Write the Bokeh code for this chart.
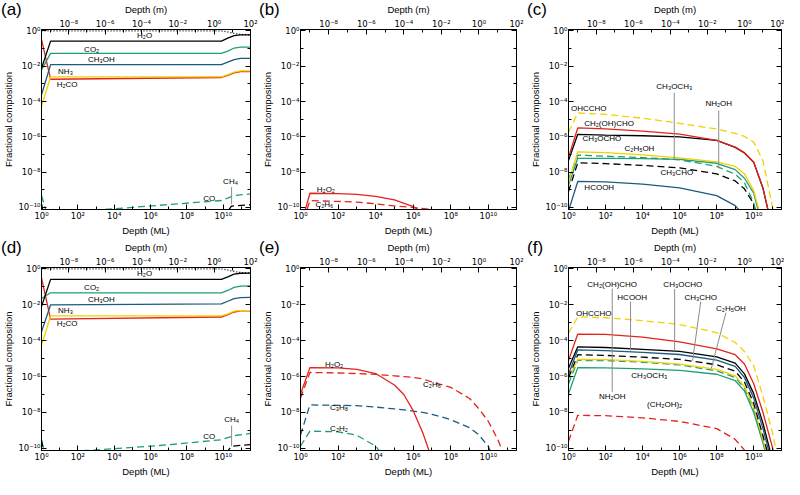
from bokeh.plotting import figure
from bokeh.models import Range1d, LogScale, LogAxis, FixedTicker, CustomJSTickFormatter, GridBox, Div
from bokeh.core.properties import value
from bokeh.embed import file_html
from bokeh.resources import INLINE

FONT = "Liberation Sans"
TICK_FONT = "DejaVu Sans"
BLACK = "#000000"
GREEN = "#1e9e76"
BLUE = "#1c5a7e"
YELLOW = "#f4d000"
RED = "#e3231c"
GRAY = "#8c8c8c"

# ---------------- data: log10(depth in ML) and log10(fractional composition) ----------------
# panel (a)
A_X = [0, 0.5, 9.9, 10.25, 10.6, 10.95, 11.5]
A_H2O_TOTAL = [0.0, 0.0, 0.0, -0.06, -0.14, -0.2, -0.22]
A_H2O = [-2.12, -0.58, -0.58, -0.41, -0.27, -0.23, -0.23]
A_CO2 = [-2.21, -1.27, -1.27, -1.15, -0.97, -0.92, -0.92]
A_CH3OH = [-3.63, -1.91, -1.91, -1.77, -1.63, -1.56, -1.56]
A_NH3 = [-4.28, -2.6, -2.6, -2.48, -2.34, -2.27, -2.27]
A_H2CO = [-0.48, -2.74, -2.64, -2.52, -2.38, -2.31, -2.31]
A_CO_X = [0, 0.5, 2, 3.2, 5, 7, 9.9, 10.25, 10.6, 11.5]
A_CO = [-9.33, -11.0, -10.35, -10.14, -10.0, -9.84, -9.61, -9.47, -9.33, -9.24]
A_CH4_X = [0, 0.25, 10.0, 10.45, 11.5]
A_CH4 = [-9.8, -11.0, -10.6, -9.93, -9.85]

# panel (d)
D_X = [0, 0.5, 9.9, 10.25, 10.6, 10.95, 11.5]
D_H2O_TOTAL = [0.0, 0.0, 0.0, -0.06, -0.14, -0.2, -0.23]
D_H2O = [-2.09, -0.58, -0.58, -0.44, -0.29, -0.24, -0.23]
D_CO2 = [-1.65, -1.33, -1.33, -1.2, -1.03, -0.96, -0.94]
D_CH3OH = [-3.5, -2.0, -1.95, -1.8, -1.65, -1.6, -1.58]
D_NH3 = [-4.27, -2.62, -2.62, -2.5, -2.35, -2.32, -2.32]
D_H2CO = [-0.5, -2.8, -2.68, -2.55, -2.4, -2.34, -2.34]
D_CO_X = [0, 0.3, 2, 5, 7, 9.9, 10.25, 10.6, 11.5]
D_CO = [-9.6, -10.6, -10.15, -9.95, -9.8, -9.52, -9.4, -9.29, -9.17]
D_CH4_X = [0, 0.25, 10.0, 10.45, 11.5]
D_CH4 = [-9.52, -11.0, -10.5, -9.88, -9.79]

# panel (b)
B_X = [0, 0.5, 2, 3, 4, 5, 6, 7, 8, 9, 10, 11, 11.5]
B_H2O2 = [-11.1, -9.2, -9.22, -9.26, -9.38, -9.58, -9.96, -10.6, -11.5, -12.5, -13.5, -14.5, -15]
B_C2H6 = [-11.3, -9.62, -9.66, -9.7, -9.8, -9.92, -10.0, -10.12, -10.3, -10.6, -11, -11.5, -12]

# panel (e)
E_X = [0, 0.5, 2, 3, 4, 5, 5.5, 6, 6.5, 7, 8, 9, 9.5, 10, 10.5, 11, 11.5]
E_H2O2 = [-6.99, -5.5, -5.52, -5.6, -5.83, -6.47, -7.0, -7.9, -9.1, -10.6, -13, -15, -16, -17, -18, -19, -20]
E_C2H6 = [-7.2, -5.77, -5.8, -5.83, -5.88, -5.96, -6.0, -6.05, -6.13, -6.3, -6.6, -7.22, -7.8, -8.5, -9.5, -10.8, -12]
E_C3H8 = [-9.26, -7.58, -7.6, -7.62, -7.7, -7.8, -7.86, -7.92, -8.0, -8.1, -8.4, -8.85, -9.25, -9.9, -11, -12.5, -14]
E_C2H2 = [-9.88, -9.04, -9.08, -9.27, -9.88, -11.2, -12, -13, -14, -15, -16, -17, -17.5, -18, -18.5, -19, -19.5]

# panel (c)
C_X = [0, 0.5, 2, 4, 6, 8, 9, 9.5, 10, 10.5, 11, 11.5]
C_OHCCHO = [-5.75, -4.65, -4.73, -4.95, -5.24, -5.56, -5.8, -5.98, -6.3, -7.35, -9.9, -13]
C_CH2OHCHO = [-7.17, -5.5, -5.55, -5.68, -5.85, -6.2, -6.58, -6.9, -7.43, -8.9, -11.2, -14]
C_CH3OCHO = [-7.35, -5.86, -5.9, -5.94, -6.0, -6.2, -6.6, -6.92, -7.45, -8.92, -11.2, -14]
C_C2H5OH = [-8.58, -6.85, -6.9, -7.02, -7.2, -7.42, -7.68, -8.1, -9.05, -11.0, -13, -15]
C_NH2OH = [-8.4, -7.04, -7.1, -7.18, -7.3, -7.68, -8.12, -8.6, -9.75, -12, -14, -16]
C_CH3OCH3 = [-8.73, -7.22, -7.22, -7.24, -7.28, -7.5, -7.86, -8.35, -9.2, -11.2, -13, -15]
C_CH3CHO = [-9.1, -7.47, -7.52, -7.62, -7.76, -8.1, -8.5, -8.95, -9.8, -12, -14, -16]
C_HCOOH = [-10.2, -8.53, -8.55, -8.68, -8.9, -9.33, -9.9, -10.5, -11.5, -12.5, -13.5, -14.5]

# panel (f)
F_X = [0, 0.5, 2, 4, 6, 8, 9, 9.5, 10, 10.5, 11, 11.5]
F_OHCCHO = [-3.59, -2.67, -2.72, -2.88, -3.1, -3.55, -4.1, -4.6, -5.4, -7.1, -9.1, -11.5]
F_CH2OHCHO = [-5.1, -3.63, -3.65, -3.8, -4.06, -4.45, -4.78, -5.3, -6.4, -8.0, -9.9, -12]
F_CH3OCHO = [-5.54, -4.34, -4.38, -4.48, -4.6, -4.9, -5.25, -5.85, -6.95, -8.6, -10.6, -13]
F_HCOOH = [-5.89, -4.51, -4.55, -4.65, -4.77, -5.08, -5.43, -6.05, -7.2, -8.9, -10.9, -13]
F_CH3CHO = [-6.07, -4.78, -4.82, -4.92, -5.04, -5.34, -5.7, -6.3, -7.5, -9.3, -11.2, -13]
F_C2H5OH = [-6.1, -5.04, -5.06, -5.15, -5.3, -5.6, -5.96, -6.55, -7.7, -9.5, -11.5, -13.5]
F_CH3OCH3 = [-6.4, -5.1, -5.11, -5.2, -5.35, -5.68, -6.05, -6.65, -7.8, -9.6, -11.6, -13.6]
F_NH2OH = [-6.96, -5.5, -5.52, -5.57, -5.65, -5.87, -6.23, -6.8, -8.0, -9.7, -11.7, -13.7]
F_CH2OH2 = [-9.61, -8.16, -8.18, -8.3, -8.5, -8.9, -9.5, -10.1, -11, -12, -13, -14]

# axis extents (log10) and tick exponents
X_LOG = (0.0, 11.5)          # depth in ML
M_LOG = (-9.5, 2.0)          # depth in m
Y_LOG = (-10.12, 0.08)
X_MAJOR = [0, 2, 4, 6, 8, 10]
X_MINOR = [1, 3, 5, 7, 9, 11]
M_MAJOR = [-8, -6, -4, -2, 0, 2]
M_MINOR = [-9, -7, -5, -3, -1, 1]
Y_MAJOR = [-10, -8, -6, -4, -2, 0]
Y_MINOR = [-9, -7, -5, -3, -1]

# annotation texts (label, log depth, log fraction)
LAB_A = [("H₂O", 5.67, -0.27), ("CO₂", 2.76, -1.03), ("CH₃OH", 3.29, -1.63), ("NH₃", 1.32, -2.3),
         ("H₂CO", 1.41, -3.03), ("CO", 9.23, -9.47), ("CH₄", 10.4, -8.53)]
LEAD_A = [(10.46, -8.85, 10.46, -9.82)]
LAB_D = [("H₂O", 5.67, -0.27), ("CO₂", 2.76, -1.06), ("CH₃OH", 3.29, -1.7), ("NH₃", 1.32, -2.32),
         ("H₂CO", 1.41, -3.06), ("CO", 9.23, -9.35), ("CH₄", 10.46, -8.37)]
LEAD_D = [(10.46, -8.73, 10.46, -9.88)]
LAB_B = [("H₂O₂", 1.35, -8.97), ("C₂H₆", 1.27, -9.82)]
LEAD_B = []
LAB_E = [("H₂O₂", 1.79, -5.33), ("C₂H₆", 7.0, -6.46), ("C₃H₈", 2.05, -7.75), ("C₂H₂", 2.05, -8.9)]
LEAD_E = []
LAB_C = [("OHCCHO", 1.09, -4.39), ("CH₂(OH)CHO", 2.19, -5.22), ("CH₃OCHO", 1.8, -6.1),
         ("C₂H₅OH", 3.83, -6.64), ("CH₃OCH₃", 5.71, -3.13), ("NH₂OH", 8.11, -4.12),
         ("CH₃CHO", 5.85, -8.02), ("HCOOH", 1.66, -8.85)]
LEAD_C = [(5.71, -3.5, 5.71, -7.26), (8.11, -4.51, 8.11, -7.79)]
LAB_F = [("CH₂(OH)CHO", 2.36, -0.85), ("HCOOH", 3.44, -1.6), ("CH₃OCHO", 6.17, -0.88),
         ("CH₃CHO", 7.14, -1.59), ("C₂H₅OH", 8.77, -2.21), ("OHCCHO", 1.36, -2.48),
         ("CH₃OCH₃", 4.36, -5.93), ("NH₂OH", 2.36, -7.13), ("(CH₂OH)₂", 5.19, -7.58)]
LEAD_F = [(2.36, -1.1, 2.36, -3.63), (2.36, -6.85, 2.36, -3.63), (3.35, -1.82, 3.35, -4.55),
          (5.73, -1.12, 5.73, -4.57), (7.14, -1.82, 6.7, -5.11), (8.5, -2.44, 7.71, -5.54)]

PANEL_LETTERS = ["(a)", "(b)", "(c)", "(d)", "(e)", "(f)"]

SOLID = "solid"
DASH = "7 4"
DOT = "1 2"

SUP_JS = """
const sup = {'-':'\u207b','0':'\u2070','1':'\u00b9','2':'\u00b2','3':'\u00b3','4':'\u2074',
             '5':'\u2075','6':'\u2076','7':'\u2077','8':'\u2078','9':'\u2079'};
const e = Math.round(Math.log10(tick));
return '10' + String(e).split('').map(c => sup[c]).join('');
"""


def pw(vals):
    return [10.0 ** v for v in vals]


def style_axis(ax, label=None):
    ax.major_tick_in = 5
    ax.major_tick_out = 0
    ax.minor_tick_in = 3
    ax.minor_tick_out = 0
    ax.axis_line_color = BLACK
    ax.major_tick_line_color = BLACK
    ax.minor_tick_line_color = BLACK
    ax.major_label_text_font = TICK_FONT
    ax.major_label_text_font_size = "8.5px"
    ax.major_label_text_color = BLACK
    ax.major_label_standoff = 1
    ax.axis_label_text_font = FONT
    ax.axis_label_text_font_size = "9.5px"
    ax.axis_label_text_font_style = "normal"
    ax.axis_label_text_color = BLACK
    ax.axis_label_standoff = 1
    if label is not None:
        ax.axis_label = label


def make_panel(series, labels, leaders, w, h, bl, br, bt, bb):
    p = figure(width=w, height=h, x_axis_type="log", y_axis_type="log",
               x_range=Range1d(10 ** X_LOG[0], 10 ** X_LOG[1]),
               y_range=Range1d(10 ** Y_LOG[0], 10 ** Y_LOG[1]),
               output_backend="svg", toolbar_location=None,
               min_border_left=bl, min_border_right=br, min_border_top=bt, min_border_bottom=bb)
    p.extra_x_ranges = {"m": Range1d(10 ** M_LOG[0], 10 ** M_LOG[1])}
    p.extra_x_scales = {"m": LogScale()}
    top = LogAxis(x_range_name="m")
    p.add_layout(top, "above")
    right = LogAxis()
    p.add_layout(right, "right")
    p.grid.visible = False
    p.outline_line_color = BLACK
    p.outline_line_alpha = 1.0
    p.background_fill_color = "white"
    p.border_fill_color = "white"

    bottom = p.below[0]
    left = p.left[0]
    style_axis(bottom, "Depth (ML)")
    style_axis(top, "Depth (m)")
    style_axis(left, "Fractional composition")
    style_axis(right)
    bottom.ticker = FixedTicker(ticks=pw(X_MAJOR), minor_ticks=pw(X_MINOR))
    top.ticker = FixedTicker(ticks=pw(M_MAJOR), minor_ticks=pw(M_MINOR))
    left.ticker = FixedTicker(ticks=pw(Y_MAJOR), minor_ticks=pw(Y_MINOR))
    right.ticker = FixedTicker(ticks=pw(Y_MAJOR), minor_ticks=pw(Y_MINOR))
    for ax in (bottom, top, left):
        ax.formatter = CustomJSTickFormatter(code=SUP_JS)
    right.formatter = CustomJSTickFormatter(code="return '';")

    for xs, ys, color, dash in series:
        p.line(pw(xs), pw(ys), line_color=color, line_width=1.3, line_dash=dash)

    if leaders:
        p.segment(x0=pw([l[0] for l in leaders]), y0=pw([l[1] for l in leaders]),
                  x1=pw([l[2] for l in leaders]), y1=pw([l[3] for l in leaders]),
                  line_color=GRAY, line_width=1)

    if labels:
        p.text(x=pw([l[1] for l in labels]), y=pw([l[2] for l in labels]),
               text=[l[0] for l in labels], text_font=value(FONT), text_font_size="8px",
               text_align="center", text_baseline="middle", text_color=BLACK)
    return p


SER_A = [(A_X, A_H2O_TOTAL, BLACK, DOT), (A_CO_X, A_CO, GREEN, DASH), (A_CH4_X, A_CH4, BLACK, DASH),
         (A_X, A_H2CO, RED, SOLID), (A_X, A_NH3, YELLOW, SOLID), (A_X, A_CH3OH, BLUE, SOLID),
         (A_X, A_CO2, GREEN, SOLID), (A_X, A_H2O, BLACK, SOLID)]
SER_D = [(D_X, D_H2O_TOTAL, BLACK, DOT), (D_CO_X, D_CO, GREEN, DASH), (D_CH4_X, D_CH4, BLACK, DASH),
         (D_X, D_H2CO, RED, SOLID), (D_X, D_NH3, YELLOW, SOLID), (D_X, D_CH3OH, BLUE, SOLID),
         (D_X, D_CO2, GREEN, SOLID), (D_X, D_H2O, BLACK, SOLID)]
SER_B = [(B_X, B_C2H6, RED, DASH), (B_X, B_H2O2, RED, SOLID)]
SER_E = [(E_X, E_C2H2, GREEN, DASH), (E_X, E_C3H8, BLUE, DASH), (E_X, E_C2H6, RED, DASH),
         (E_X, E_H2O2, RED, SOLID)]
SER_C = [(C_X, C_HCOOH, BLUE, SOLID), (C_X, C_CH3CHO, BLACK, DASH), (C_X, C_CH3OCH3, GREEN, SOLID),
         (C_X, C_NH2OH, GREEN, DASH), (C_X, C_C2H5OH, YELLOW, SOLID), (C_X, C_CH3OCHO, BLACK, SOLID),
         (C_X, C_CH2OHCHO, RED, SOLID), (C_X, C_OHCCHO, YELLOW, DASH)]
SER_F = [(F_X, F_CH2OH2, RED, DASH), (F_X, F_NH2OH, GREEN, SOLID), (F_X, F_CH3OCH3, GREEN, DASH),
         (F_X, F_C2H5OH, YELLOW, SOLID), (F_X, F_CH3CHO, BLACK, DASH), (F_X, F_HCOOH, BLUE, SOLID),
         (F_X, F_CH3OCHO, BLACK, SOLID), (F_X, F_CH2OHCHO, RED, SOLID), (F_X, F_OHCCHO, YELLOW, DASH)]

# layout: column widths 258/268/258, row heights 238/241
H1, H2 = 238, 241
pa = make_panel(SER_A, LAB_A, LEAD_A, 258, H1, 33, 8, 22, 26)
pb = make_panel(SER_B, LAB_B, LEAD_B, 268, H1, 42, 10, 22, 26)
pc = make_panel(SER_C, LAB_C, LEAD_C, 258, H1, 42, 3, 22, 26)
pd = make_panel(SER_D, LAB_D, LEAD_D, 258, H2, 33, 8, 26, 25)
pe = make_panel(SER_E, LAB_E, LEAD_E, 268, H2, 42, 10, 26, 25)
pf = make_panel(SER_F, LAB_F, LEAD_F, 258, H2, 42, 3, 26, 25)

panels = [pa, pb, pc, pd, pe, pf]
children = []
for i, p in enumerate(panels):
    children.append((p, i // 3, i % 3))
for i, letter in enumerate(PANEL_LETTERS):
    d = Div(text=letter, width=30, height=20, margin=0, align="start",
            styles={"font-family": FONT, "font-size": "17px", "line-height": "17px",
                    "color": "#000000", "padding-left": "1px", "padding-top": "1px",
                    "z-index": "10"})
    children.append((d, i // 3, i % 3))

layout = GridBox(children=children, spacing=0)

with open("out.html", "w", encoding="utf-8") as fh:
    fh.write(file_html(layout, INLINE))
